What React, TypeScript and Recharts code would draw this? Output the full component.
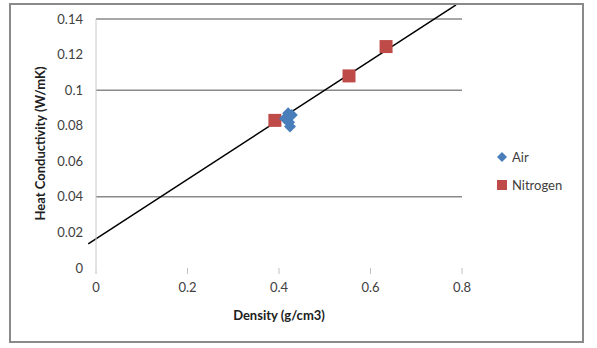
import React from 'react';
import { ScatterChart, Scatter, XAxis, YAxis, ReferenceLine } from 'recharts';

const airData = [
  { x: 0.42, y: 0.087 },
  { x: 0.428, y: 0.086 },
  { x: 0.413, y: 0.084 },
  { x: 0.422, y: 0.082 },
  { x: 0.424, y: 0.0795 },
];
const nitrogenData = [
  { x: 0.391, y: 0.083 },
  { x: 0.553, y: 0.108 },
  { x: 0.634, y: 0.1245 },
];
const trendLine = [
  { x: -0.017, y: 0.0135 },
  { x: 0.787, y: 0.148 },
];
const xTicks = [0, 0.2, 0.4, 0.6, 0.8];
const yTicks = [0, 0.02, 0.04, 0.06, 0.08, 0.1, 0.12, 0.14];
const gridValues = [0.04, 0.1, 0.14];
const seriesNames = ['Air', 'Nitrogen'];
const seriesColors = ['#4a7ebb', '#be4b48'];

const FONT = 'Lato, "Open Sans", sans-serif';

const Diamond = (props: any) => {
  const { cx, cy } = props;
  const r = 6;
  return (
    <polygon
      points={`${cx},${cy - r} ${cx + r},${cy} ${cx},${cy + r} ${cx - r},${cy}`}
      fill={seriesColors[0]}
    />
  );
};

const Square = (props: any) => {
  const { cx, cy } = props;
  const s = 13;
  return <rect x={cx - s / 2} y={cy - s / 2} width={s} height={s} fill={seriesColors[1]} />;
};

const LegendBox = () => (
  <div
    style={{
      position: 'absolute',
      left: 496,
      top: 143,
      width: 90,
      fontFamily: FONT,
      fontSize: 13,
      color: '#404040',
    }}
  >
    {seriesNames.map((n, i) => (
      <div key={n} style={{ display: 'flex', alignItems: 'center', height: 28 }}>
        <svg width={12} height={12} style={{ marginRight: 4 }}>
          {i === 0 ? (
            <polygon points="6,1 11,6 6,11 1,6" fill={seriesColors[0]} />
          ) : (
            <rect x={1} y={1} width={10} height={10} fill={seriesColors[1]} />
          )}
        </svg>
        <span>{n}</span>
      </div>
    ))}
  </div>
);

export default function App() {
  return (
    <div style={{ position: 'absolute', left: 0, top: 0, width: 597, height: 348, background: '#fff' }}>
      <ScatterChart
        width={597}
        height={348}
        margin={{ top: 19, right: 135, bottom: 40, left: 0 }}
      >
        <XAxis
          type="number"
          dataKey="x"
          domain={[0, 0.8]}
          ticks={xTicks}
          allowDataOverflow
          axisLine={false}
          tickLine={{ stroke: '#c0c0c0' }}
          tickSize={6}
          tickMargin={9}
          height={40}
          tick={{ fontFamily: FONT, fontSize: 13, fill: '#404040' }}
          label={{
            value: 'Density (g/cm3)',
            position: 'insideBottom',
            offset: -12,
            style: { fontFamily: FONT, fontSize: 13, fontWeight: 'bold', fill: '#202020' },
          }}
        />
        <YAxis
          type="number"
          dataKey="y"
          domain={[0, 0.14]}
          ticks={yTicks}
          allowDataOverflow
          axisLine={{ stroke: '#c8c8c8' }}
          tickLine={false}
          tickMargin={7}
          width={96}
          tickFormatter={(v: number) => String(v)}
          tick={{ fontFamily: FONT, fontSize: 13, fill: '#404040' }}
          label={{
            value: 'Heat Conductivity (W/mK)',
            angle: -90,
            position: 'insideLeft',
            offset: 40,
            style: { fontFamily: FONT, fontSize: 13, fontWeight: 'bold', fill: '#202020', textAnchor: 'middle' },
          }}
        />
        {gridValues.map((v) => (
          <ReferenceLine key={v} y={v} stroke="#8a8a8a" strokeWidth={1.5} />
        ))}
        <Scatter name="Nitrogen" data={nitrogenData} shape={Square} isAnimationActive={false} />
        <Scatter name="Air" data={airData} shape={Diamond} isAnimationActive={false} />
        <ReferenceLine segment={trendLine} stroke="#000" strokeWidth={1.5} ifOverflow="visible" />
      </ScatterChart>
      <LegendBox />
      <div
        style={{
          position: 'absolute',
          left: 9,
          top: 3,
          width: 575,
          height: 340,
          border: '2px solid #8a8a8a',
          boxSizing: 'border-box',
          pointerEvents: 'none',
        }}
      />
    </div>
  );
}
